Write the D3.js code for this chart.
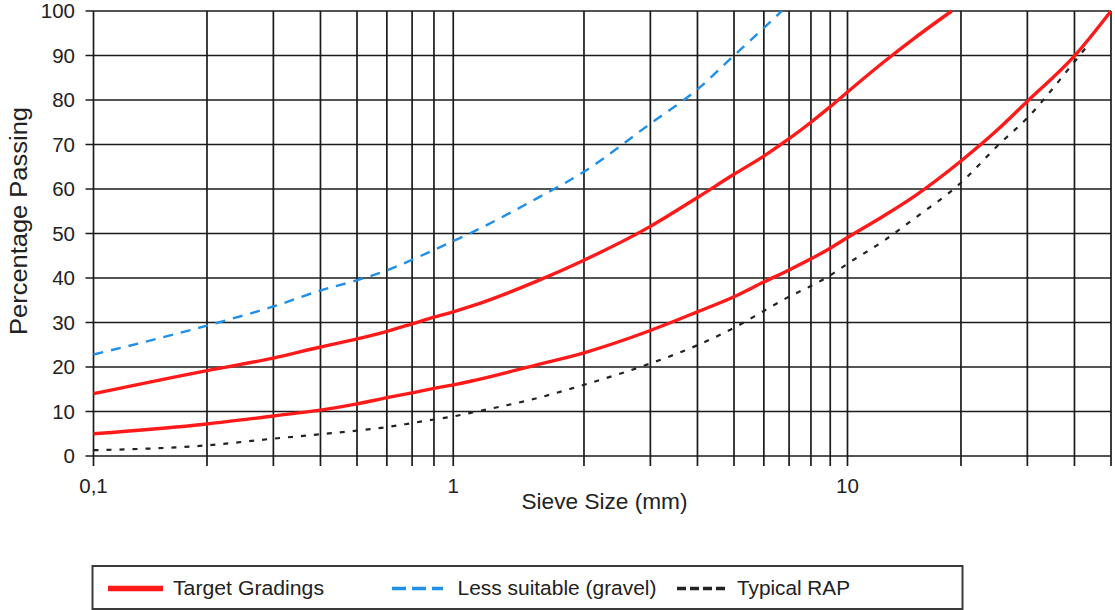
<!DOCTYPE html>
<html>
<head>
<meta charset="utf-8">
<script src="https://cdn.jsdelivr.net/npm/d3@7"></script>
<style>
  html, body { margin: 0; padding: 0; background: #fff; }
  svg { display: block; }
  text { font-family: "Liberation Sans", Arial, Helvetica, sans-serif; fill: #222; }
</style>
</head>
<body>
<svg id="chart" width="1115" height="610"></svg>
<script>
// Sieve grid lines (mm) and axis labels
const sieveGrid = [0.1, 0.2, 0.3, 0.4, 0.5, 0.6, 0.7, 0.8, 0.9,
                   2, 3, 4, 5, 6, 7, 8, 9, 10, 20, 30, 40, 50];
const xTickValues = [0.1, 0.9, 10];
const xTickLabels = ["0,1", "1", "10"];
const yTicks = [0, 10, 20, 30, 40, 50, 60, 70, 80, 90, 100];

// Target grading envelope, upper limit
const upperSizes  = [0.1, 0.2, 0.3, 0.4, 0.5, 0.6, 0.7, 0.8, 0.9, 1, 1.5, 2, 3, 4, 5, 6, 7, 8, 9, 10, 12.5, 15, 18.9];
const upperValues = [14, 19.2, 22, 24.5, 26.3, 28, 29.7, 31.2, 32.4, 33.6, 39.3, 44, 51.6, 58.1, 63.3, 67.4, 71.3, 75.0, 78.5, 81.8, 88.6, 93.8, 100];

// Target grading envelope, lower limit
const lowerSizes  = [0.1, 0.2, 0.3, 0.4, 0.5, 0.6, 0.7, 0.8, 0.9, 1, 1.5, 2, 3, 4, 5, 6, 7, 8, 9, 10, 12.5, 15, 20, 25, 30, 40, 50];
const lowerValues = [5, 7.2, 9, 10.3, 11.7, 13.1, 14.2, 15.2, 16, 16.8, 20.5, 23.2, 28.2, 32.4, 35.8, 39.1, 41.8, 44.3, 46.7, 49.1, 54.0, 58.3, 66.3, 73.3, 79.7, 89.9, 100];

// Less suitable (gravel)
const gravelSizes  = [0.1, 0.2, 0.3, 0.4, 0.5, 0.6, 0.7, 0.8, 0.9, 1, 1.5, 2, 3, 4, 5, 6, 6.69];
const gravelValues = [22.8, 29.3, 33.6, 37.2, 39.5, 41.7, 44.1, 46.3, 48.3, 50.1, 57.9, 63.9, 74.7, 82.4, 90.0, 96.2, 100];

// Typical RAP
const rapSizes  = [0.1, 0.2, 0.3, 0.4, 0.5, 0.6, 0.7, 0.8, 0.9, 1, 1.5, 2, 3, 4, 5, 6, 7, 8, 9, 10, 12.5, 15, 20, 25, 30, 40, 43.5];
const rapValues = [1.3, 2.4, 3.9, 4.9, 5.7, 6.5, 7.4, 8.2, 8.9, 9.7, 13, 16, 20.8, 24.9, 28.8, 32.6, 35.8, 38.2, 40.6, 43.2, 48.4, 53.3, 61.4, 69.7, 76, 88.6, 92.4];

const legendLabels = ["Target Gradings", "Less suitable (gravel)", "Typical RAP"];

const svg = d3.select("#chart");

const x = d3.scaleLog().domain([0.1, 50]).range([93.5, 1111]);
const y = d3.scaleLinear().domain([0, 100]).range([456, 11]);

const gridColor = "#1b1b1b";

// horizontal grid lines with short ticks on the left
svg.append("g").selectAll("line").data(yTicks).join("line")
  .attr("x1", x(0.1) - 8).attr("x2", x(50))
  .attr("y1", d => y(d)).attr("y2", d => y(d))
  .attr("stroke", gridColor).attr("stroke-width", 1.7);

// vertical grid lines with short ticks below
svg.append("g").selectAll("line").data(sieveGrid).join("line")
  .attr("x1", d => x(d)).attr("x2", d => x(d))
  .attr("y1", y(100)).attr("y2", y(0) + 10)
  .attr("stroke", gridColor).attr("stroke-width", 1.7);

// y tick labels
svg.append("g").selectAll("text").data(yTicks).join("text")
  .attr("x", 75).attr("y", d => y(d))
  .attr("dy", "0.36em")
  .attr("text-anchor", "end")
  .attr("font-size", 20.5)
  .text(d => d);

// x tick labels
svg.append("g").selectAll("text").data(xTickValues).join("text")
  .attr("x", d => x(d)).attr("y", 493)
  .attr("text-anchor", "middle")
  .attr("font-size", 20.5)
  .text((d, i) => xTickLabels[i]);

// axis titles
svg.append("text")
  .attr("x", 604.5).attr("y", 509)
  .attr("text-anchor", "middle")
  .attr("font-size", 22.5)
  .attr("textLength", 166)
  .attr("lengthAdjust", "spacingAndGlyphs")
  .text("Sieve Size (mm)");

svg.append("text")
  .attr("transform", "translate(27,221) rotate(-90)")
  .attr("text-anchor", "middle")
  .attr("font-size", 23)
  .attr("textLength", 228)
  .attr("lengthAdjust", "spacingAndGlyphs")
  .text("Percentage Passing");

// curves
const line = d3.line()
  .x(d => x(d[0]))
  .y(d => y(d[1]))
  .curve(d3.curveMonotoneX);

const zip = (a, b) => a.map((v, i) => [v, b[i]]);

const plot = svg.append("g");

plot.append("path").datum(zip(upperSizes, upperValues))
  .attr("d", line).attr("fill", "none")
  .attr("stroke", "#ff1a1a").attr("stroke-width", 3.4);

plot.append("path").datum(zip(lowerSizes, lowerValues))
  .attr("d", line).attr("fill", "none")
  .attr("stroke", "#ff1a1a").attr("stroke-width", 3.4);

plot.append("path").datum(zip(gravelSizes, gravelValues))
  .attr("d", line).attr("fill", "none")
  .attr("stroke", "#1f8fe8").attr("stroke-width", 2.4)
  .attr("stroke-dasharray", "10,8");

plot.append("path").datum(zip(rapSizes, rapValues))
  .attr("d", line).attr("fill", "none")
  .attr("stroke", "#222").attr("stroke-width", 2.2)
  .attr("stroke-dasharray", "5,8");

// legend
const legend = svg.append("g");
legend.append("rect")
  .attr("x", 92.5).attr("y", 566)
  .attr("width", 870).attr("height", 43)
  .attr("fill", "#fff")
  .attr("stroke", "#3a3a3a").attr("stroke-width", 2);

const ly = 588.5;
legend.append("line")
  .attr("x1", 108).attr("x2", 163).attr("y1", ly).attr("y2", ly)
  .attr("stroke", "#ff1a1a").attr("stroke-width", 5.5);
legend.append("line")
  .attr("x1", 392).attr("x2", 443).attr("y1", ly).attr("y2", ly)
  .attr("stroke", "#1f8fe8").attr("stroke-width", 3.5)
  .attr("stroke-dasharray", "14,6");
legend.append("line")
  .attr("x1", 677).attr("x2", 725).attr("y1", ly).attr("y2", ly)
  .attr("stroke", "#222").attr("stroke-width", 3.5)
  .attr("stroke-dasharray", "9,4");

const legendX = [173, 457.5, 737];
const legendW = [151, 199, 113];
legend.selectAll("text.lbl").data(legendLabels).join("text")
  .attr("class", "lbl")
  .attr("x", (d, i) => legendX[i]).attr("y", 595)
  .attr("font-size", 20.5)
  .attr("textLength", (d, i) => legendW[i])
  .attr("lengthAdjust", "spacingAndGlyphs")
  .text(d => d);
</script>
</body>
</html>
